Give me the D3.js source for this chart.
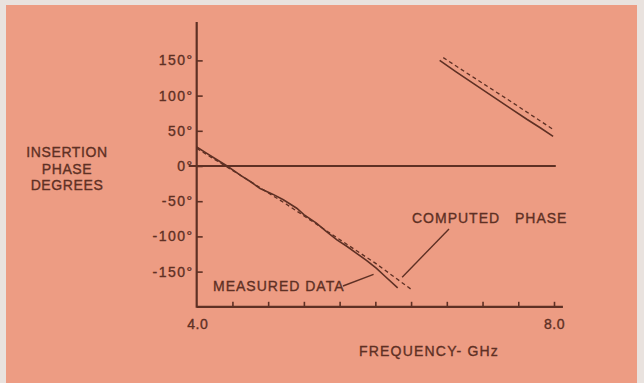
<!DOCTYPE html>
<html>
<head>
<meta charset="utf-8">
<script src="https://cdn.jsdelivr.net/npm/d3@7"></script>
<style>
  body { margin: 0; background: #e9e2de; }
  text { font-family: "Liberation Sans", Arial, sans-serif; fill: #5e3024; stroke: #5e3024; stroke-width: 0.35px; }
</style>
</head>
<body>
<div id="phasechart"></div>
<script>
// values (GHz, degrees)
var measuredLowFreq  = [4.0, 4.1, 4.2, 4.34, 4.5, 4.6, 4.71, 4.85, 4.97, 5.12, 5.2, 5.34, 5.45, 5.57, 5.68, 5.79, 5.9, 6.01, 6.12, 6.25];
var measuredLowPhase = [27, 19, 11, 0, -14, -22, -32, -40, -48, -60, -69, -81, -93, -105, -114, -124, -134, -145, -158, -173];
var measuredHighFreq  = [6.72, 6.9, 7.1, 7.3, 7.5, 7.7, 7.85, 7.99];
var measuredHighPhase = [150, 134, 117, 100, 83, 66, 54, 42];

var computedLowFreq  = [4.0, 4.5, 5.0, 5.5, 6.0, 6.41];
var computedLowPhase = [25, -14, -54, -96, -138, -176];
var computedHighFreq  = [6.76, 7.0, 7.5, 7.99];
var computedHighPhase = [154, 134, 93, 52];

var yTicks = [150, 100, 50, 0, -50, -100, -150];
var xTicks = [4.0, 4.4, 4.8, 5.2, 5.6, 6.0, 6.4, 6.8, 7.2, 7.6, 8.0];
var xTickLabels = {"4": "4.0", "8": "8.0"};

var chart_props = {
  width : 644,
  height : 383,
  x0 : 196.7,
  x1 : 554,
  y0 : 306.8,
  y1 : 25.2
};

var ink = "#5e3024";

function pairs(fs, ps){
  return fs.map(function(f, i){ return {freq : f, phase : ps[i]}; });
}

var svg = d3.select("#phasechart").append("svg")
  .attr("width", chart_props.width)
  .attr("height", chart_props.height);

// salmon card on a pale border
svg.append("rect")
  .attr("x", 6).attr("y", 5)
  .attr("width", 631).attr("height", 378)
  .style("fill", "#ed9c83");

var scales = {
  x : d3.scaleLinear().domain([4, 8]).range([chart_props.x0, chart_props.x1]),
  y : d3.scaleLinear().domain([-200, 200]).range([chart_props.y0, chart_props.y1])
};

// x axis, ticks pointing up into the plot
var xAxis = svg.append("g")
  .attr("class", "axis")
  .attr("transform", "translate(0," + chart_props.y0 + ")")
  .call(d3.axisBottom(scales.x)
    .tickValues(xTicks.slice(1))
    .tickSizeInner(-5)
    .tickSizeOuter(0)
    .tickPadding(12)
    .tickFormat(function(d){ return xTickLabels[String(d)] || ""; }));
xAxis.select(".domain").remove();
xAxis.selectAll("line").style("stroke", ink).style("stroke-width", 1.6);
xAxis.selectAll("text").style("font-size", "14px").style("letter-spacing", "0.5px");

svg.append("text")
  .attr("x", scales.x(4) + 1)
  .attr("y", chart_props.y0 + 22)
  .attr("text-anchor", "middle")
  .style("font-size", "14px")
  .style("letter-spacing", "0.5px")
  .text("4.0");

svg.append("line")
  .attr("x1", chart_props.x0).attr("x2", scales.x(8.1))
  .attr("y1", chart_props.y0).attr("y2", chart_props.y0)
  .style("stroke", ink).style("stroke-width", 2.2);

// y axis, ticks pointing right
var yAxis = svg.append("g")
  .attr("class", "axis")
  .attr("transform", "translate(" + chart_props.x0 + ",0)")
  .call(d3.axisLeft(scales.y)
    .tickValues(yTicks)
    .tickSizeInner(-6)
    .tickSizeOuter(0)
    .tickPadding(3)
    .tickFormat(function(d){ return d + "\u00b0"; }));
yAxis.select(".domain").remove();
yAxis.selectAll("line").style("stroke", ink).style("stroke-width", 1.6);
yAxis.selectAll("text")
  .style("font-size", "14px")
  .style("letter-spacing", "1.5px")
  .style("fill", ink);

svg.append("line")
  .attr("x1", chart_props.x0).attr("x2", chart_props.x0)
  .attr("y1", 22).attr("y2", chart_props.y0 + 1)
  .style("stroke", ink).style("stroke-width", 2.2);

// zero line
svg.append("line")
  .attr("x1", chart_props.x0 - 8).attr("x2", scales.x(8.02))
  .attr("y1", scales.y(0)).attr("y2", scales.y(0))
  .style("stroke", ink).style("stroke-width", 2);

var phaseLine = d3.line()
  .x(function(d){ return scales.x(d.freq); })
  .y(function(d){ return scales.y(d.phase); });

var computed = [pairs(computedLowFreq, computedLowPhase), pairs(computedHighFreq, computedHighPhase)];
var measured = [pairs(measuredLowFreq, measuredLowPhase), pairs(measuredHighFreq, measuredHighPhase)];

svg.selectAll(".computed-line")
  .data(computed)
  .enter().append("path")
  .attr("class", "computed-line")
  .attr("d", function(d){ return phaseLine(d); })
  .style("fill", "none")
  .style("stroke", ink)
  .style("stroke-width", 1.3)
  .style("stroke-dasharray", "4,3");

svg.selectAll(".measured-line")
  .data(measured)
  .enter().append("path")
  .attr("class", "measured-line")
  .attr("d", function(d){ return phaseLine(d); })
  .style("fill", "none")
  .style("stroke", ink)
  .style("stroke-width", 1.6);

// labels
var yTitle = ["INSERTION", "PHASE", "DEGREES"];
svg.selectAll(".y-title")
  .data(yTitle)
  .enter().append("text")
  .attr("class", "y-title")
  .attr("x", 67)
  .attr("y", function(d, i){ return 157 + i * 16.5; })
  .attr("text-anchor", "middle")
  .style("font-size", "14px")
  .style("letter-spacing", "0.6px")
  .text(function(d){ return d; });

svg.append("text")
  .attr("x", 429)
  .attr("y", 356)
  .attr("text-anchor", "middle")
  .style("font-size", "14px")
  .style("letter-spacing", "1.2px")
  .text("FREQUENCY- GHz");

// annotations with leader lines
svg.append("text")
  .attr("x", 213)
  .attr("y", 291)
  .style("font-size", "14px")
  .style("letter-spacing", "1px")
  .text("MEASURED DATA");
svg.append("line")
  .attr("x1", 343).attr("y1", 286)
  .attr("x2", scales.x(5.98)).attr("y2", scales.y(-154))
  .style("stroke", ink).style("stroke-width", 1.4);

svg.append("text")
  .attr("x", 412)
  .attr("y", 223)
  .style("font-size", "14px")
  .style("letter-spacing", "1px")
  .style("word-spacing", "10px")
  .text("COMPUTED PHASE");
svg.append("line")
  .attr("x1", 449).attr("y1", 229)
  .attr("x2", scales.x(6.3)).attr("y2", scales.y(-158))
  .style("stroke", ink).style("stroke-width", 1.4);
</script>
</body>
</html>
